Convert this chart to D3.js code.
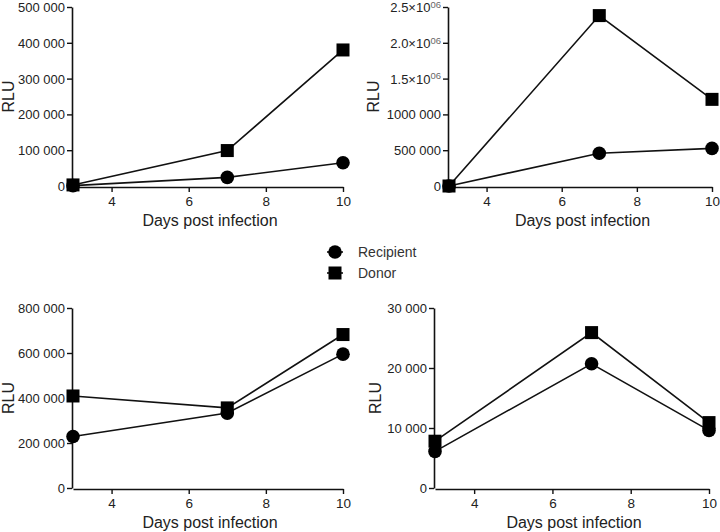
<!DOCTYPE html>
<html>
<head>
<meta charset="utf-8">
<script src="https://d3js.org/d3.v7.min.js"></script>
<style>
  body { margin: 0; background: #fff; }
  text { font-family: "Liberation Sans", Arial, sans-serif; }
</style>
</head>
<body>
<script>
// data
var days = [3, 7, 10],
    xTicks = [4, 6, 8, 10];

var recipientA = [1000, 24000, 65000],
    donorA = [3000, 99000, 380000],
    recipientB = [0, 458000, 525000],
    donorB = [0, 2380000, 1210000],
    recipientC = [229000, 333000, 595000],
    donorC = [409000, 356000, 682000],
    recipientD = [6100, 20700, 9600],
    donorD = [7800, 25900, 10900];

var yTicksA = [0, 100000, 200000, 300000, 400000, 500000],
    yLabelsA = ["0", "100 000", "200 000", "300 000", "400 000", "500 000"],
    yTicksB = [0, 500000, 1000000, 1500000, 2000000, 2500000],
    yLabelsB = ["0", "500 000", "1000 000", "1.5×10^06", "2.0×10^06", "2.5×10^06"],
    yTicksC = [0, 200000, 400000, 600000, 800000],
    yLabelsC = ["0", "200 000", "400 000", "600 000", "800 000"],
    yTicksD = [0, 10000, 20000, 30000],
    yLabelsD = ["0", "10 000", "20 000", "30 000"];

var seriesNames = ["Recipient", "Donor"];

var svgContainer,
    svgWidth = 720,
    svgHeight = 532;

var panels = [
    { x0: 73, x1: 343, y0: 186, y1: 7, rlu: 9, series: [recipientA, donorA], ticks: yTicksA, labels: yLabelsA },
    { x0: 449, x1: 712, y0: 186, y1: 7, rlu: 374, series: [recipientB, donorB], ticks: yTicksB, labels: yLabelsB },
    { x0: 73, x1: 343, y0: 488, y1: 308, rlu: 9, series: [recipientC, donorC], ticks: yTicksC, labels: yLabelsC },
    { x0: 435, x1: 709, y0: 488, y1: 308, rlu: 376, series: [recipientD, donorD], ticks: yTicksD, labels: yLabelsD }
];

function init() {
    svgContainer = d3.select("body").append("svg")
        .attr("width", svgWidth)
        .attr("height", svgHeight);
    panels.forEach(drawPanel);
    drawLegend(335, 252);
}

function drawPanel(p) {
    var xScale = d3.scaleLinear().domain([3, 10]).range([p.x0, p.x1]);
    var yMax = p.ticks[p.ticks.length - 1];
    var yScale = d3.scaleLinear().domain([0, yMax]).range([p.y0, p.y1]);

    var xAxis = d3.axisBottom(xScale).tickValues(xTicks).tickFormat(d3.format("d"))
        .tickSize(5).tickSizeOuter(0).tickPadding(4);
    var yAxis = d3.axisLeft(yScale).tickValues(p.ticks).tickSize(5).tickSizeOuter(0)
        .tickFormat(function() { return ""; });

    var xg = svgContainer.append("g")
        .attr("transform", "translate(0," + (p.y0 + 1) + ")")
        .call(xAxis);
    var yg = svgContainer.append("g")
        .attr("transform", "translate(" + (p.x0 - 1) + ",0)")
        .call(yAxis);

    [xg, yg].forEach(function(g) {
        g.select(".domain").attr("stroke", "#111").attr("stroke-width", 1.6);
        g.selectAll(".tick line").attr("stroke", "#111").attr("stroke-width", 1.4);
        g.selectAll(".tick text").attr("fill", "#222").style("font-size", "13.5px");
    });

    // y labels, "^" marks a superscript exponent
    yg.selectAll(".tick text").each(function(d, i) {
        var t = d3.select(this).attr("x", -7).attr("dy", "0.35em").style("font-size", "13px");
        var parts = p.labels[i].split("^");
        t.append("tspan").text(parts[0]);
        if (parts[1]) {
            t.append("tspan").attr("dy", "-0.45em").style("font-size", "9.5px").attr("fill", "#666").text(parts[1]);
        }
    });

    svgContainer.append("text")
        .attr("x", (p.x0 + p.x1) / 2 + 2)
        .attr("y", p.y0 + 40)
        .attr("text-anchor", "middle")
        .style("font-size", "16px")
        .attr("fill", "#222")
        .text("Days post infection");

    svgContainer.append("text")
        .attr("transform", "translate(" + (p.rlu + 5) + "," + ((p.y0 + p.y1) / 2) + ") rotate(-90)")
        .attr("text-anchor", "middle")
        .style("font-size", "16px")
        .attr("fill", "#222")
        .text("RLU");

    var line = d3.line()
        .x(function(d, i) { return xScale(days[i]); })
        .y(function(d) { return yScale(d); });

    p.series.forEach(function(values, s) {
        svgContainer.append("path")
            .datum(values)
            .attr("d", line)
            .attr("fill", "none")
            .attr("stroke", "#111")
            .attr("stroke-width", 1.6);
        values.forEach(function(v, i) {
            drawMarker(xScale(days[i]), yScale(v), s);
        });
    });
}

function drawMarker(cx, cy, kind) {
    if (kind === 0) {
        svgContainer.append("circle")
            .attr("cx", cx).attr("cy", cy).attr("r", 6.8)
            .attr("fill", "#000");
    } else {
        svgContainer.append("rect")
            .attr("x", cx - 6.5).attr("y", cy - 6.5)
            .attr("width", 13).attr("height", 13)
            .attr("fill", "#000");
    }
}

function drawLegend(x, y) {
    seriesNames.forEach(function(name, i) {
        var yy = y + i * 21;
        svgContainer.append("line")
            .attr("x1", x - 8).attr("x2", x + 8)
            .attr("y1", yy).attr("y2", yy)
            .attr("stroke", "#111").attr("stroke-width", 1.6);
        drawMarker(x, yy, i);
        svgContainer.append("text")
            .attr("x", x + 23).attr("y", yy)
            .attr("dy", "0.35em")
            .style("font-size", "14px")
            .attr("fill", "#333")
            .text(name);
    });
}

init();
</script>
</body>
</html>
